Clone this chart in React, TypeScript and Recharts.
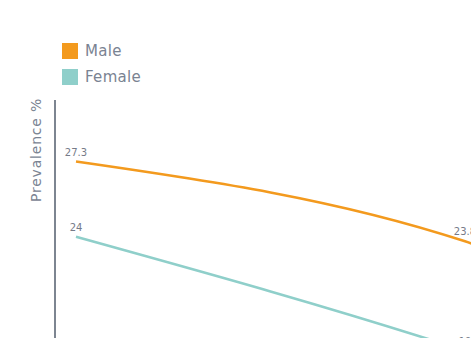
import { LineChart, Line, XAxis, YAxis, LabelList } from 'recharts'

// survey waves and prevalence (%) by sex
const waves = ['2011', '2016', '2021']
const maleValues = [27.3, 23.8, 16.1]
const femaleValues = [24, 19.0, 12.9]

const MALE_COLOR = '#F39A1E'
const FEMALE_COLOR = '#8FCFCA'
const TEXT_COLOR = '#7A8392'
const FONT = '"DejaVu Sans", sans-serif'

const data = waves.map((wave, i) => ({
  wave,
  male: maleValues[i],
  female: femaleValues[i],
}))

const legendItems = [
  { name: 'Male', color: MALE_COLOR },
  { name: 'Female', color: FEMALE_COLOR },
]

function AxisTitle() {
  return (
    <text
      x={41}
      y={150}
      transform="rotate(-90 41 150)"
      textAnchor="middle"
      fill={TEXT_COLOR}
      fontSize={14}
      fontFamily={FONT}
      letterSpacing={0.8}
    >
      Prevalence %
    </text>
  )
}

export default function App() {
  return (
    <div
      style={{
        position: 'fixed',
        left: 0,
        top: 0,
        width: 471,
        height: 338,
        overflow: 'hidden',
        background: '#fff',
      }}
    >
      <div style={{ position: 'absolute', left: 62, top: 43, fontFamily: FONT }}>
        {legendItems.map((item) => (
          <div
            key={item.name}
            style={{ display: 'flex', alignItems: 'center', height: 16, marginBottom: 10 }}
          >
            <span style={{ width: 16, height: 16, background: item.color, display: 'inline-block' }} />
            <span style={{ marginLeft: 7, fontSize: 15, color: TEXT_COLOR, letterSpacing: 0.3 }}>
              {item.name}
            </span>
          </div>
        ))}
      </div>
      <LineChart
        width={875}
        height={790}
        data={data}
        margin={{ top: 100, right: 0, bottom: 6, left: 0 }}
        style={{ position: 'absolute', left: 0, top: 0 }}
      >
        <XAxis dataKey="wave" hide padding={{ left: 21, right: 21 }} />
        <YAxis
          domain={[0, 30]}
          width={55}
          tick={false}
          tickLine={false}
          axisLine={{ stroke: '#7D8591', strokeWidth: 2 }}
          label={{ content: () => <AxisTitle /> }}
        />
        <Line
          type="monotone"
          dataKey="male"
          stroke={MALE_COLOR}
          strokeWidth={2.6}
          dot={false}
          isAnimationActive={false}
        >
          <LabelList dataKey="male" position="top" offset={6} fill="#767B88" fontSize={10} fontFamily={FONT} />
        </Line>
        <Line
          type="monotone"
          dataKey="female"
          stroke={FEMALE_COLOR}
          strokeWidth={2.6}
          dot={false}
          isAnimationActive={false}
        >
          <LabelList dataKey="female" position="top" offset={6} fill="#767B88" fontSize={10} fontFamily={FONT} />
        </Line>
      </LineChart>
    </div>
  )
}
